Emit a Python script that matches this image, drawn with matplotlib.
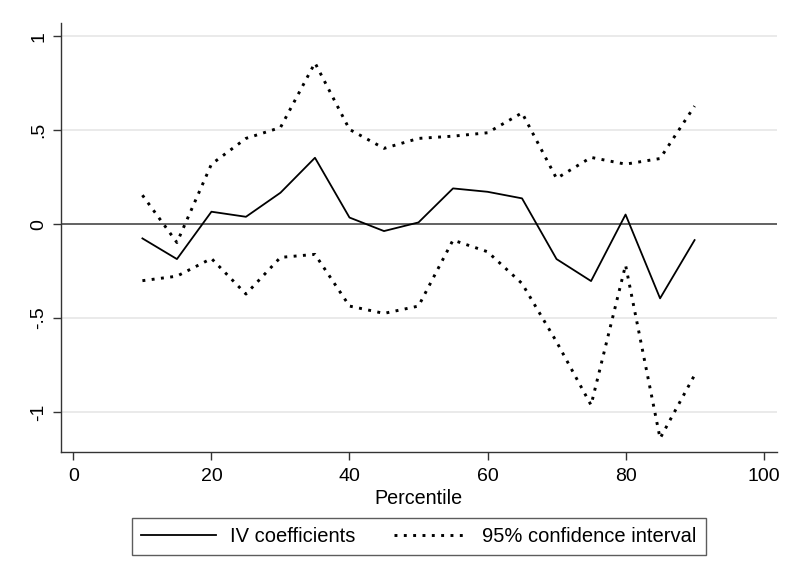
import matplotlib
matplotlib.use("Agg")
import matplotlib.pyplot as plt
import numpy as np

plt.rcParams['font.family'] = ['Liberation Sans', 'DejaVu Sans']

# percentiles and estimates
percentile = [10, 15, 20, 25, 30, 35, 40, 45, 50, 55, 60, 65, 70, 75, 80, 85, 90]
iv_coef = [-0.076, -0.186, 0.066, 0.039, 0.167, 0.353, 0.035, -0.037, 0.009,
           0.190, 0.172, 0.137, -0.186, -0.303, 0.051, -0.395, -0.085]
ci_upper = [0.154, -0.098, 0.319, 0.456, 0.514, 0.858, 0.504, 0.403, 0.456,
            0.468, 0.486, 0.592, 0.243, 0.355, 0.319, 0.349, 0.628]
ci_lower = [-0.301, -0.277, -0.183, -0.372, -0.177, -0.161, -0.436, -0.475, -0.436,
            -0.085, -0.147, -0.316, -0.626, -0.963, -0.218, -1.140, -0.803]

xticks = [0, 20, 40, 60, 80, 100]
yticks = [-1, -0.5, 0, 0.5, 1]
ytick_labels = ['-1', '-.5', '0', '.5', '1']

fig = plt.figure(figsize=(7.95, 5.8), dpi=100)
ax = fig.add_axes([0.0767, 0.2202, 0.9003, 0.7398])

axis_col = '#333333'
dot_style = (0, (1, 2.2))

# horizontal grid and zero line
for yv in yticks:
    if yv == 0:
        ax.axhline(yv, color='#555555', lw=1.3, zorder=1)
    else:
        ax.axhline(yv, color='#e6e6e6', lw=1.2, zorder=0)

ax.plot(percentile, iv_coef, color='black', lw=1.3, label='IV coefficients', zorder=3)
ax.plot(percentile, ci_upper, color='black', lw=2.1, linestyle=dot_style,
        label='95% confidence interval', zorder=3)
ax.plot(percentile, ci_lower, color='black', lw=2.1, linestyle=dot_style, zorder=3)

ax.set_xlim(-1.8, 101.9)
ax.set_ylim(-1.214, 1.069)
ax.set_xticks(xticks)
ax.set_yticks(yticks)
ax.set_yticklabels(ytick_labels, rotation=90, va='center')

for side in ['top', 'right']:
    ax.spines[side].set_visible(False)
for side in ['left', 'bottom']:
    ax.spines[side].set_color(axis_col)
    ax.spines[side].set_linewidth(1.0)

ax.tick_params(axis='both', direction='out', length=6, width=1.0, color=axis_col,
               labelsize=14, labelcolor='black')
ax.tick_params(axis='x', pad=5.5)
ax.tick_params(axis='y', pad=4)
ax.set_xlabel('Percentile', fontsize=14.2, labelpad=2.5)

leg = fig.legend(loc='center', bbox_to_anchor=(0.527, 0.075), ncol=2, fontsize=14.5,
                 handlelength=3.7, handletextpad=0.7, columnspacing=1.9,
                 borderpad=0.45, fancybox=False, frameon=True)
leg.get_frame().set_edgecolor(axis_col)
leg.get_frame().set_linewidth(1.0)

fig.savefig('out.png', dpi=100, facecolor='white')
